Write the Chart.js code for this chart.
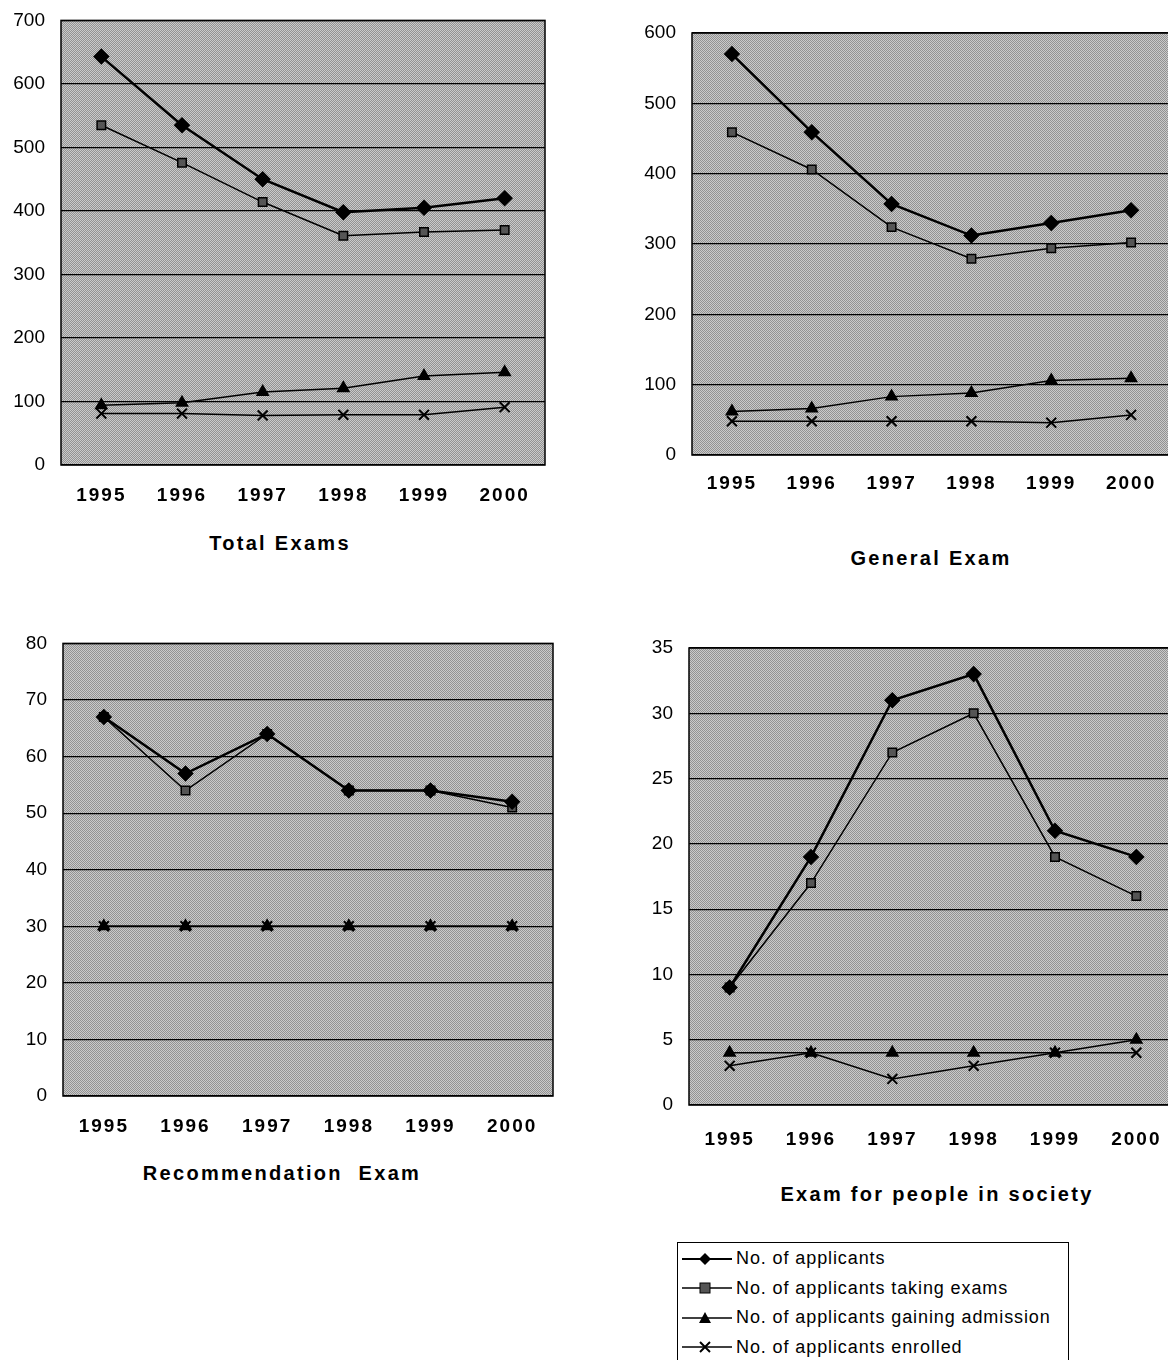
<!DOCTYPE html>
<html>
<head>
<meta charset="utf-8">
<script src="https://cdn.jsdelivr.net/npm/chart.js@4.4.1/dist/chart.umd.min.js"></script>
<style>
    body { margin: 0; width: 1168px; height: 1360px; overflow: hidden; background: #fff; position: relative; font-family: "Liberation Sans", Arial, sans-serif; }
    .box { position: absolute; }
    .title { position: absolute; font-weight: bold; font-size: 20px; letter-spacing: 2.3px; white-space: pre; transform: translateX(-50%); }
    #legend { position: absolute; left: 677px; top: 1242px; width: 392px; height: 200px; border: 1.5px solid #000; box-sizing: border-box; padding-top: 1px; }
    #legend div { height: 29.5px; display: flex; align-items: center; font-size: 18px; letter-spacing: 0.9px; }
    #legend svg { margin-right: 2px; }
</style>
</head>
<body>

<div class="box" style="left:0;top:-7px;width:560px;height:520px"><canvas id="c1" width="560" height="520"></canvas></div>
<div class="box" style="left:610px;top:0;width:580px;height:520px"><canvas id="c2" width="580" height="520"></canvas></div>
<div class="box" style="left:0;top:616px;width:570px;height:520px"><canvas id="c3" width="570" height="520"></canvas></div>
<div class="box" style="left:610px;top:620px;width:580px;height:540px"><canvas id="c4" width="580" height="540"></canvas></div>

<div class="title" style="left:280px;top:532px">Total Exams</div>
<div class="title" style="left:931px;top:547px">General Exam</div>
<div class="title" style="left:282px;top:1162px">Recommendation  Exam</div>
<div class="title" style="left:937px;top:1183px">Exam for people in society</div>

<div id="legend"></div>

<script>
    // years on the x axis
    const years = ['1995', '1996', '1997', '1998', '1999', '2000'];
    const seriesNames = [
        'No. of applicants',
        'No. of applicants taking exams',
        'No. of applicants gaining admission',
        'No. of applicants enrolled'
    ];

    // Total Exams
    const totalApplicants = [643, 535, 450, 398, 405, 420];
    const totalTaking = [535, 476, 414, 361, 367, 370];
    const totalAdmission = [94, 98, 115, 121, 140, 146];
    const totalEnrolled = [81, 81, 78, 79, 79, 91];

    // General Exam
    const generalApplicants = [570, 459, 357, 312, 330, 348];
    const generalTaking = [459, 406, 324, 279, 294, 302];
    const generalAdmission = [62, 66, 83, 88, 106, 109];
    const generalEnrolled = [48, 48, 48, 48, 46, 57];

    // Recommendation Exam
    const recApplicants = [67, 57, 64, 54, 54, 52];
    const recTaking = [67, 54, 64, 54, 54, 51];
    const recAdmission = [30, 30, 30, 30, 30, 30];
    const recEnrolled = [30, 30, 30, 30, 30, 30];

    // Exam for people in society
    const socApplicants = [9, 19, 31, 33, 21, 19];
    const socTaking = [9, 17, 27, 30, 19, 16];
    const socAdmission = [4, 4, 4, 4, 4, 5];
    const socEnrolled = [3, 4, 2, 3, 4, 4];

    // halftone-ish grey for the plot area
    const pat = document.createElement('canvas');
    pat.width = 2; pat.height = 2;
    const pctx = pat.getContext('2d');
    pctx.fillStyle = '#cacaca'; pctx.fillRect(0, 0, 2, 2);
    pctx.fillStyle = '#929292'; pctx.fillRect(0, 0, 1, 1); pctx.fillRect(1, 1, 1, 1);

    const plotBg = {
        id: 'plotBg',
        afterUpdate(chart) {
            // wider spacing for the year labels only
            const s = chart.scales.x;
            if (!s._spaced) {
                const orig = s.drawLabels;
                s.drawLabels = function (area) {
                    this.ctx.save();
                    this.ctx.letterSpacing = '2px';
                    orig.call(this, area);
                    this.ctx.restore();
                };
                s._spaced = true;
            }
        },
        beforeDraw(chart) {
            const a = chart.chartArea, ctx = chart.ctx;
            ctx.save();
            ctx.fillStyle = ctx.createPattern(pat, 'repeat');
            ctx.fillRect(a.left, a.top, a.right - a.left, a.bottom - a.top);
            ctx.restore();
        },
        afterDatasetsDraw(chart) {
            const a = chart.chartArea, ctx = chart.ctx;
            ctx.save();
            ctx.strokeStyle = '#000';
            ctx.lineWidth = 1.5;
            ctx.strokeRect(a.left, a.top, a.right - a.left, a.bottom - a.top);
            ctx.restore();
        }
    };

    function makeChart(id, data, max, step, o) {
        const ds = [
            { data: data[0], borderWidth: 2.5, pointStyle: 'rectRot', pointRadius: 6.5, pointBackgroundColor: '#000' },
            { data: data[1], borderWidth: 1.5, pointStyle: 'rect', pointRadius: 6, pointBackgroundColor: '#555' },
            { data: data[2], borderWidth: 1.5, pointStyle: 'triangle', pointRadius: 6.5, pointBackgroundColor: '#000' },
            { data: data[3], borderWidth: 1.5, pointStyle: 'crossRot', pointRadius: 7, pointBorderWidth: 2 }
        ];
        ds.forEach(function (d, i) {
            d.label = seriesNames[i];
            d.borderColor = '#000';
            d.pointBorderColor = '#000';
            d.tension = 0;
        });
        return new Chart(document.getElementById(id), {
            type: 'line',
            data: { labels: years, datasets: ds },
            options: {
                responsive: false,
                animation: false,
                layout: { padding: { top: o.top, right: o.right, left: 0, bottom: 0 } },
                plugins: { legend: { display: false }, tooltip: { enabled: false } },
                scales: {
                    x: {
                        offset: true,
                        grid: { display: false },
                        border: { display: false },
                        ticks: { color: '#000', padding: o.xpad, font: { family: 'Liberation Sans', size: 19, weight: 'bold' } },
                        afterFit: function (s) { s.height = o.xh; }
                    },
                    y: {
                        min: 0, max: max,
                        grid: { color: '#000', lineWidth: 1.2, drawTicks: false },
                        border: { display: false },
                        ticks: { stepSize: step, color: '#000', padding: 16, font: { family: 'Liberation Sans', size: 19 } },
                        afterFit: function (s) { s.width = o.yw; }
                    }
                }
            },
            plugins: [plotBg]
        });
    }

    makeChart('c1', [totalApplicants, totalTaking, totalAdmission, totalEnrolled], 700, 100,
        { top: 27, right: 15, yw: 61, xh: 48, xpad: 11 });
    makeChart('c2', [generalApplicants, generalTaking, generalAdmission, generalEnrolled], 600, 100,
        { top: 33, right: 19, yw: 82, xh: 65, xpad: 9 });
    makeChart('c3', [recApplicants, recTaking, recAdmission, recEnrolled], 80, 10,
        { top: 27, right: 17, yw: 63, xh: 40, xpad: 11 });
    makeChart('c4', [socApplicants, socTaking, socAdmission, socEnrolled], 35, 5,
        { top: 28, right: 13, yw: 79, xh: 55, xpad: 15 });

    // shared legend box
    const icons = [
        '<polygon points="27,4 33,10 27,16 21,10" fill="#000"/>',
        '<rect x="22" y="5" width="10" height="10" fill="#555" stroke="#000"/>',
        '<polygon points="27,4 33,15 21,15" fill="#000"/>',
        '<path d="M22,5 L32,15 M32,5 L22,15" stroke="#000" stroke-width="2"/>'
    ];
    const legend = document.getElementById('legend');
    seriesNames.forEach(function (name, i) {
        const row = document.createElement('div');
        row.innerHTML = '<svg width="56" height="20"><line x1="4" y1="10" x2="54" y2="10" stroke="#000" stroke-width="' +
            (i === 0 ? 2 : 1.5) + '"/>' + icons[i] + '</svg>' + name;
        legend.appendChild(row);
    });
</script>
</body>
</html>
